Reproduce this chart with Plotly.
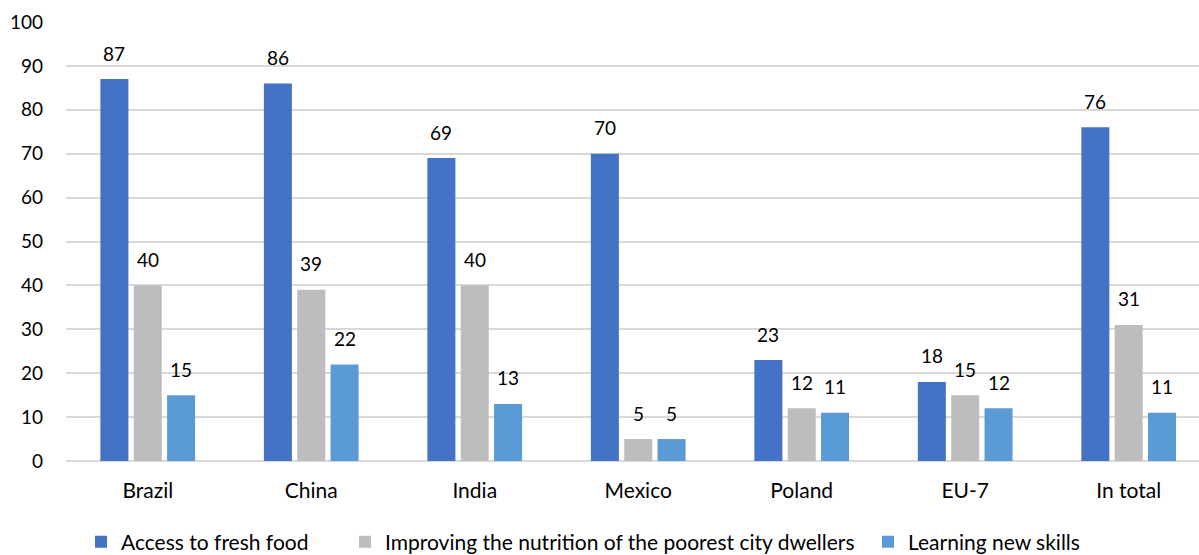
import plotly.graph_objects as go

categories = ["Brazil", "China", "India", "Mexico", "Poland", "EU-7", "In total"]
fresh_food = [87, 86, 69, 70, 23, 18, 76]
nutrition = [40, 39, 40, 5, 12, 15, 31]
new_skills = [15, 22, 13, 5, 11, 12, 11]

series = [
    ("Access to fresh food", fresh_food, "#4472C4"),
    ("Improving the nutrition of the poorest city dwellers", nutrition, "#BDBDBD"),
    ("Learning new skills", new_skills, "#5B9BD5"),
]
legend_ids = ["legend", "legend2", "legend3"]
legend_x = [81, 345, 868]

FONT = "Lato, Carlito, Calibri, sans-serif"
W, H = 1199, 555

fig = go.Figure()
for (name, vals, color), lid in zip(series, legend_ids):
    fig.add_trace(go.Bar(
        x=categories, y=vals, name=name,
        marker=dict(color=color, line=dict(width=0)),
        offsetgroup=name, legend=lid,
    ))

# value labels floating above each bar
n = len(series)
slot = 0.612 / n
annotations = []
for i, (name, vals, color) in enumerate(series):
    offset = -0.306 + slot * (i + 0.5)
    for j, v in enumerate(vals):
        annotations.append(dict(
            x=j + offset, y=v, xref="x", yref="y",
            text=str(v), showarrow=False, yanchor="middle", yshift=26,
            font=dict(family=FONT, size=19, color="#000000"),
        ))

legend_style = dict(
    orientation="h", xref="container", yref="container",
    y=13 / H, yanchor="middle", xanchor="left",
    font=dict(family=FONT, size=21, color="#000000"),
    itemwidth=30, bgcolor="rgba(0,0,0,0)",
)
layout_legends = {lid: dict(legend_style, x=lx / W) for lid, lx in zip(legend_ids, legend_x)}

fig.update_layout(
    width=W, height=H,
    margin=dict(l=66, r=0, t=22, b=94, autoexpand=False),
    paper_bgcolor="white", plot_bgcolor="white",
    barmode="group", bargap=0.388, bargroupgap=0.16,
    font=dict(family=FONT, size=19, color="#000000"),
    annotations=annotations,
    showlegend=True,
    **layout_legends,
)
fig.update_xaxes(
    type="category", range=[-0.5, 6.43],
    showgrid=False, showline=False, ticks="",
    ticklabelstandoff=15,
    tickfont=dict(family=FONT, size=21, color="#000000"),
)
fig.update_yaxes(
    range=[0, 100], dtick=10, tick0=0,
    showgrid=True, gridcolor="#D9D9D9", gridwidth=1.5,
    zeroline=True, zerolinecolor="#D9D9D9", zerolinewidth=1.5,
    showline=False, ticks="", ticklabelstandoff=22,
    tickfont=dict(family=FONT, size=19, color="#000000"),
)

fig.write_html("out.html")
